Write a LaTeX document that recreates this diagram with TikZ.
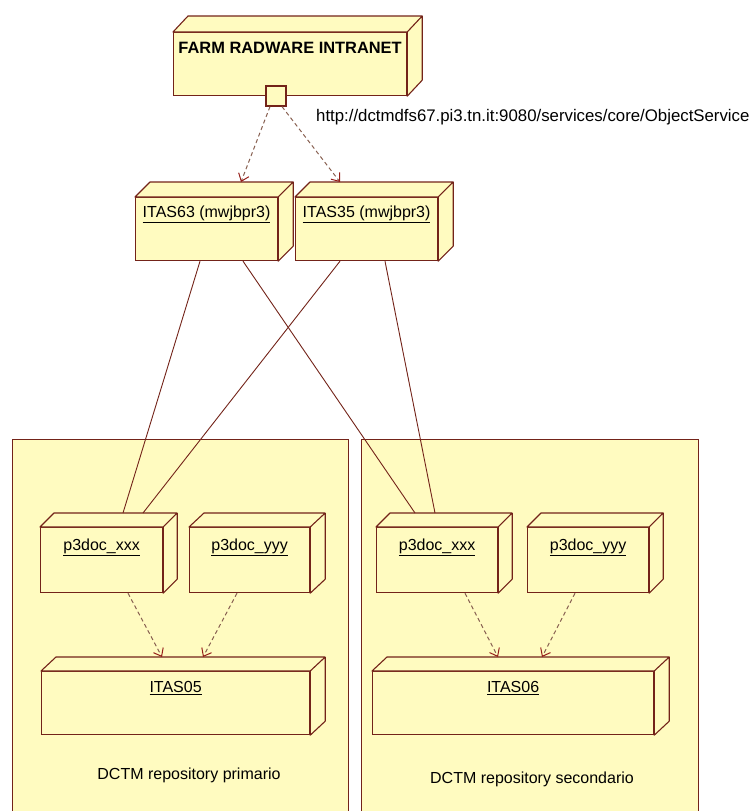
\documentclass[tikz,border=0pt]{standalone}
\usepackage{fontspec}
\setmainfont{Liberation Sans}
\usetikzlibrary{arrows.meta,calc}

\definecolor{yl}{RGB}{255,251,192}
\definecolor{ln}{RGB}{115,35,25}
\definecolor{dl}{RGB}{135,95,80}
\definecolor{tip}{RGB}{150,30,25}

\newcommand{\fs}{\fontsize{16}{19}\selectfont}

% top and right faces of a 3D deployment node
\newcommand{\solidify}[3]{%
  \draw[face] (#1.north west) -- ++(#2,-#3) -- ([shift={(#2,-#3)}]#1.north east)
    -- ([shift={(#2,-#3)}]#1.south east) -- (#1.south east) -- (#1.north east) -- cycle
    (#1.north east) -- ++(#2,-#3);}

\tikzset{
  n3d/.style={rectangle, draw=ln, fill=yl, line width=1.2pt, anchor=north west, inner sep=0pt},
  face/.style={draw=ln, fill=yl, line width=1.1pt, line join=round},
  tag/.style={font=\fs, text=black, anchor=north, inner sep=2pt, yshift=#1},
  tag/.default=-7pt,
  repo/.style={rectangle, draw=ln, fill=yl, line width=1.3pt, anchor=north west, inner sep=0pt},
  caption/.style={font=\fs, text=black, inner sep=1pt},
  link/.style={draw=ln, line width=0.9pt},
  dep/.style={draw=dl, line width=1pt, dash pattern=on 4pt off 3pt,
    -{Straight Barb[length=7pt,width=11pt,line width=1pt,color=tip]}},
}

\begin{document}
\begin{tikzpicture}[x=1pt,y=-1pt]
\useasboundingbox (0,0) rectangle (751,811);
\clip (0,0) rectangle (751,811);

% repository containers
\node[repo, minimum width=336, minimum height=400] (repA) at (12,439) {};
\node[repo, minimum width=337, minimum height=400] (repB) at (361,439) {};
\node[caption] (capA) at (189,775) {DCTM repository primario};
\node[caption] (capB) at (532,779) {DCTM repository secondario};

% top node with its port
\node[n3d, minimum width=233, minimum height=63,
  label={[tag=-8pt, font=\fontsize{16.4}{19}\selectfont]north:\textbf{FARM RADWARE INTRANET}}] (farm) at (173,32) {};
\solidify{farm}{15}{16}
\node[rectangle, draw=ln, fill=yl, line width=1.2pt, minimum size=20, inner sep=0pt] (port) at (276,96) {};
\node[font=\fontsize{16.8}{19}\selectfont, anchor=west, inner sep=0pt] (url) at (316,117) {http://dctmdfs67.pi3.tn.it:9080/services/core/ObjectService};

% application servers
\node[n3d, minimum width=142, minimum height=63,
  label={[tag]north:\underline{ITAS63 (mwjbpr3)}}] (i63) at (135,197) {};
\solidify{i63}{15}{15}
\node[n3d, minimum width=142, minimum height=63,
  label={[tag]north:\underline{ITAS35 (mwjbpr3)}}] (i35) at (295,197) {};
\solidify{i35}{15}{15}

% primary repository
\node[n3d, minimum width=122, minimum height=65,
  label={[tag=-10pt]north:\underline{p3doc\_xxx}}] (pxa) at (40,527) {};
\solidify{pxa}{14}{14}
\node[n3d, minimum width=120, minimum height=65,
  label={[tag=-10pt]north:\underline{p3doc\_yyy}}] (pya) at (189,527) {};
\solidify{pya}{15}{14}
\node[n3d, minimum width=268, minimum height=63,
  label={[tag=-8pt]north:\underline{ITAS05}}] (i05) at (41,671) {};
\solidify{i05}{15}{14}

% secondary repository
\node[n3d, minimum width=121, minimum height=65,
  label={[tag=-10pt]north:\underline{p3doc\_xxx}}] (pxb) at (376,527) {};
\solidify{pxb}{14}{14}
\node[n3d, minimum width=121, minimum height=65,
  label={[tag=-10pt]north:\underline{p3doc\_yyy}}] (pyb) at (527,527) {};
\solidify{pyb}{14}{14}
\node[n3d, minimum width=281, minimum height=63,
  label={[tag=-8pt]north:\underline{ITAS06}}] (i06) at (372,671) {};
\solidify{i06}{15}{14}

% dependencies from the port
\draw[dep] ($(port.south)+(-6,0)$) -- ($(i63.north west)+(106,-15)$);
\draw[dep] ($(port.south)+(6,0)$) -- ($(i35.north west)+(45,-15)$);

% links between servers and docbases
\draw[link] ($(i63.south west)+(65,0)$) -- ($(pxa.north west)+(83,-14)$);
\draw[link] ($(i63.south west)+(108,0)$) -- ($(pxb.north west)+(39,-14)$);
\draw[link] ($(i35.south west)+(45,0)$) -- ($(pxa.north west)+(103,-14)$);
\draw[link] ($(i35.south west)+(90,0)$) -- ($(pxb.north west)+(59,-14)$);

% docbases depend on their content servers
\draw[dep] ($(pxa.south west)+(88,0)$) -- ($(i05.north west)+(121,-14)$);
\draw[dep] ($(pya.south west)+(48,0)$) -- ($(i05.north west)+(162,-14)$);
\draw[dep] ($(pxb.south west)+(89,0)$) -- ($(i06.north west)+(126,-14)$);
\draw[dep] ($(pyb.south west)+(48,0)$) -- ($(i06.north west)+(170,-14)$);
\end{tikzpicture}
\end{document}
